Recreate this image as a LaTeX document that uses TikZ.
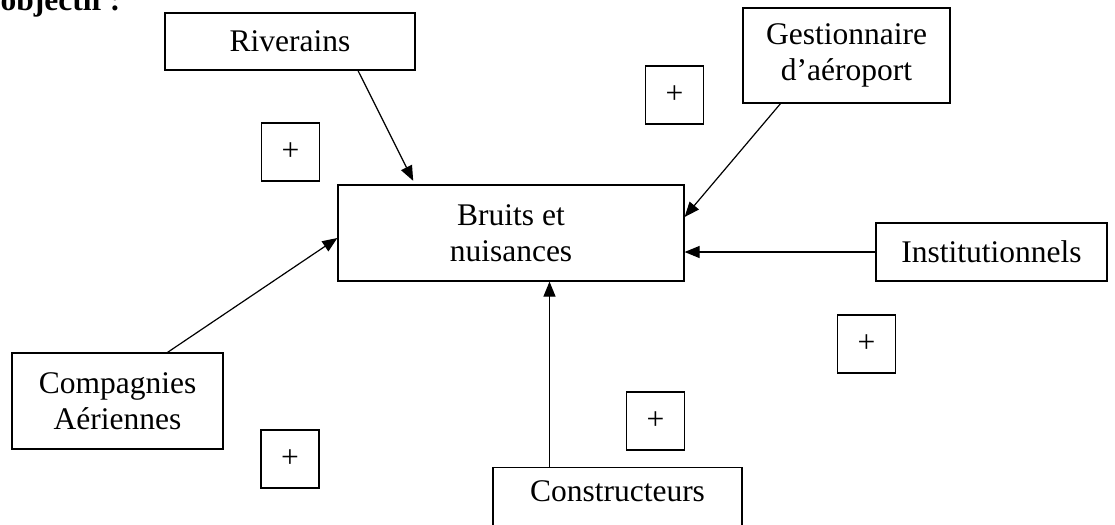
\documentclass[tikz,border=0pt]{standalone}
\usepackage{fontspec}
\setmainfont{Liberation Serif}
\usetikzlibrary{arrows.meta}

\begin{document}
\begin{tikzpicture}[x=0.5pt, y=-0.5pt, line width=0.6pt, >={Triangle[length=7.5pt,width=6pt]},
	every node/.style={font=\fontsize{15.75pt}{18pt}\selectfont},
	boite/.style={draw, align=center, inner sep=0pt},
	signe/.style={draw, inner sep=0pt, minimum width=29pt, minimum height=29pt}]
	\useasboundingbox (0,0) rectangle (1115,525);
	\clip (0,0) rectangle (1115,525);
	\node[anchor=base west, inner sep=0pt, font=\fontsize{15.75pt}{18pt}\selectfont\bfseries] (titre) at (0,10.5) {objectif :};
	\node[boite, minimum width=173pt, minimum height=48pt] (bruits) at (511,233) {Bruits et\\nuisances};
	\node[boite, minimum width=125pt, minimum height=28.5pt] (riv) at (290,41.5) {Riverains};
	\node[boite, minimum width=103.5pt, minimum height=47.5pt] (gest) at (846.5,55.5) {Gestionnaire\\d'aéroport};
	\node[boite, minimum width=115.5pt, minimum height=29pt] (inst) at (991.5,252) {Institutionnels};
	\node[boite, minimum width=105.5pt, minimum height=48pt] (comp) at (117.5,401) {Compagnies\\Aériennes};
	\node[boite, minimum width=124.5pt, text height=17pt, text depth=16.5pt, anchor=base] (cons) at (617.5,501.7) {Constructeurs};
	\node[signe] (p1) at (290.5,152) {+};
	\node[signe] (p2) at (674.5,95) {+};
	\node[signe] (p3) at (866.5,344) {+};
	\node[signe] (p4) at (655.5,421) {+};
	\node[signe] (p5) at (290,459) {+};
	\path[->]
	([xshift=34pt]riv.south) edge[shorten >=2pt] ([xshift=-48pt]bruits.north)
	([xshift=-33pt]gest.south) edge ([yshift=8pt]bruits.east)
	(inst.west) edge (inst.west -| bruits.east)
	([xshift=25pt]comp.north) edge ([yshift=-2.5pt]bruits.west)
	([xshift=-34pt]cons.north) edge ([xshift=-34pt]cons.north |- bruits.south)
	;
\end{tikzpicture}
\end{document}
